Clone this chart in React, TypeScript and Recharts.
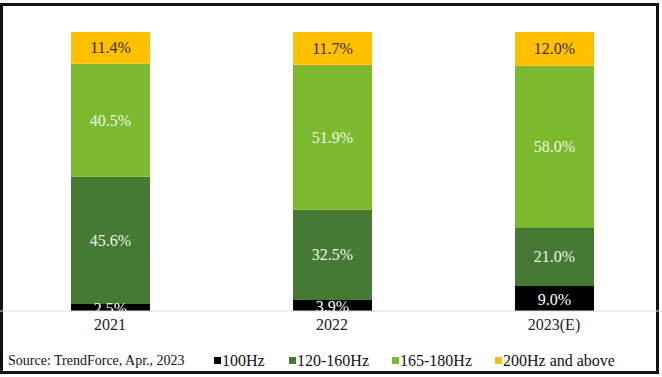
import React from "react";
import { BarChart, Bar, XAxis, YAxis, Legend, LabelList, Customized } from "recharts";

const categories = ["2021", "2022", "2023(E)"];
const hz100 = [2.5, 3.9, 9.0];
const hz120to160 = [45.6, 32.5, 21.0];
const hz165to180 = [40.5, 51.9, 58.0];
const hz200plus = [11.4, 11.7, 12.0];

const seriesNames = ["100Hz", "120-160Hz", "165-180Hz", "200Hz and above"];
const seriesKeys = ["a", "b", "c", "d"];
const colors = ["#000000", "#467934", "#7cb92e", "#ffc000"];
const labelColors = ["#ffffff", "#eef6e6", "#eef6e6", "#3a2a08"];
const sourceText = "Source: TrendForce, Apr., 2023";

const data = categories.map((name, i) => ({
  name,
  a: hz100[i],
  b: hz120to160[i],
  c: hz165to180[i],
  d: hz200plus[i],
}));

const FONT = "'Liberation Serif', 'Times New Roman', serif";

const makeLabel = (si: number) => (props: any) => {
  const vb = props.viewBox || props;
  const x = Number(vb.x);
  const y = Number(vb.y);
  const w = Number(vb.width);
  const h = Number(vb.height);
  const value = props.value;
  const id = `clip-${si}-${props.index}`;
  const bottom = y + h;
  return (
    <g>
      <defs>
        <clipPath id={id}>
          <rect x={x - 20} y={0} width={w + 40} height={bottom} />
        </clipPath>
      </defs>
      <text
        x={x + w / 2}
        y={y + h / 2 + (si === 0 ? 1 : 0)}
        textAnchor="middle"
        dominantBaseline="central"
        fill={labelColors[si]}
        fontFamily={FONT}
        fontSize={16}
        clipPath={si === 0 ? `url(#${id})` : undefined}
      >
        {Number(value).toFixed(1)}%
      </text>
    </g>
  );
};

const legendItems = [
  { sq: 214, tx: 222 },
  { sq: 289, tx: 297 },
  { sq: 392, tx: 400 },
  { sq: 495, tx: 503 },
];

const renderLegend = () => (
  <div style={{ position: "relative", width: 662, height: 36, fontFamily: FONT, color: "#111" }}>
    <span style={{ position: "absolute", left: 8, top: 12, fontSize: 14, lineHeight: "16px", whiteSpace: "nowrap" }}>{sourceText}</span>
    {legendItems.map((it, i) => (
      <React.Fragment key={i}>
        <span
          style={{
            position: "absolute",
            left: it.sq,
            top: 16,
            width: 7,
            height: 7,
            background: colors[i],
          }}
        />
        <span style={{ position: "absolute", left: it.tx, top: 12, fontSize: 16, lineHeight: "16px", whiteSpace: "nowrap" }}>
          {seriesNames[i]}
        </span>
      </React.Fragment>
    ))}
  </div>
);

const FrameBorder = () => (
  <rect x={1.5} y={4.5} width={656} height={368} fill="none" stroke="#111" strokeWidth={3} />
);

export default function App() {
  return (
    <div style={{ position: "absolute", left: 0, top: 0, width: 662, height: 377, background: "#fff" }}>
      <BarChart
        width={662}
        height={377}
        data={data}
        margin={{ top: 32, right: -3, left: -1, bottom: 0 }}
        barSize={79}
      >
        <XAxis
          dataKey="name"
          height={30}
          tickLine={false}
          axisLine={{ stroke: "#d9d9d9", strokeWidth: 1 }}
          tick={{ fill: "#222", fontFamily: FONT, fontSize: 16 }}
        />
        <YAxis hide domain={[0, 100]} />
        <Legend
          verticalAlign="bottom"
          content={renderLegend}
          wrapperStyle={{ left: 0, bottom: 0, width: 662, height: 36 }}
        />
        {seriesKeys.map((k, i) => (
          <Bar key={k} dataKey={k} stackId="s" fill={colors[i]} isAnimationActive={false}>
            <LabelList dataKey={k} content={makeLabel(i)} />
          </Bar>
        ))}
        <Customized component={FrameBorder} />
      </BarChart>
    </div>
  );
}
